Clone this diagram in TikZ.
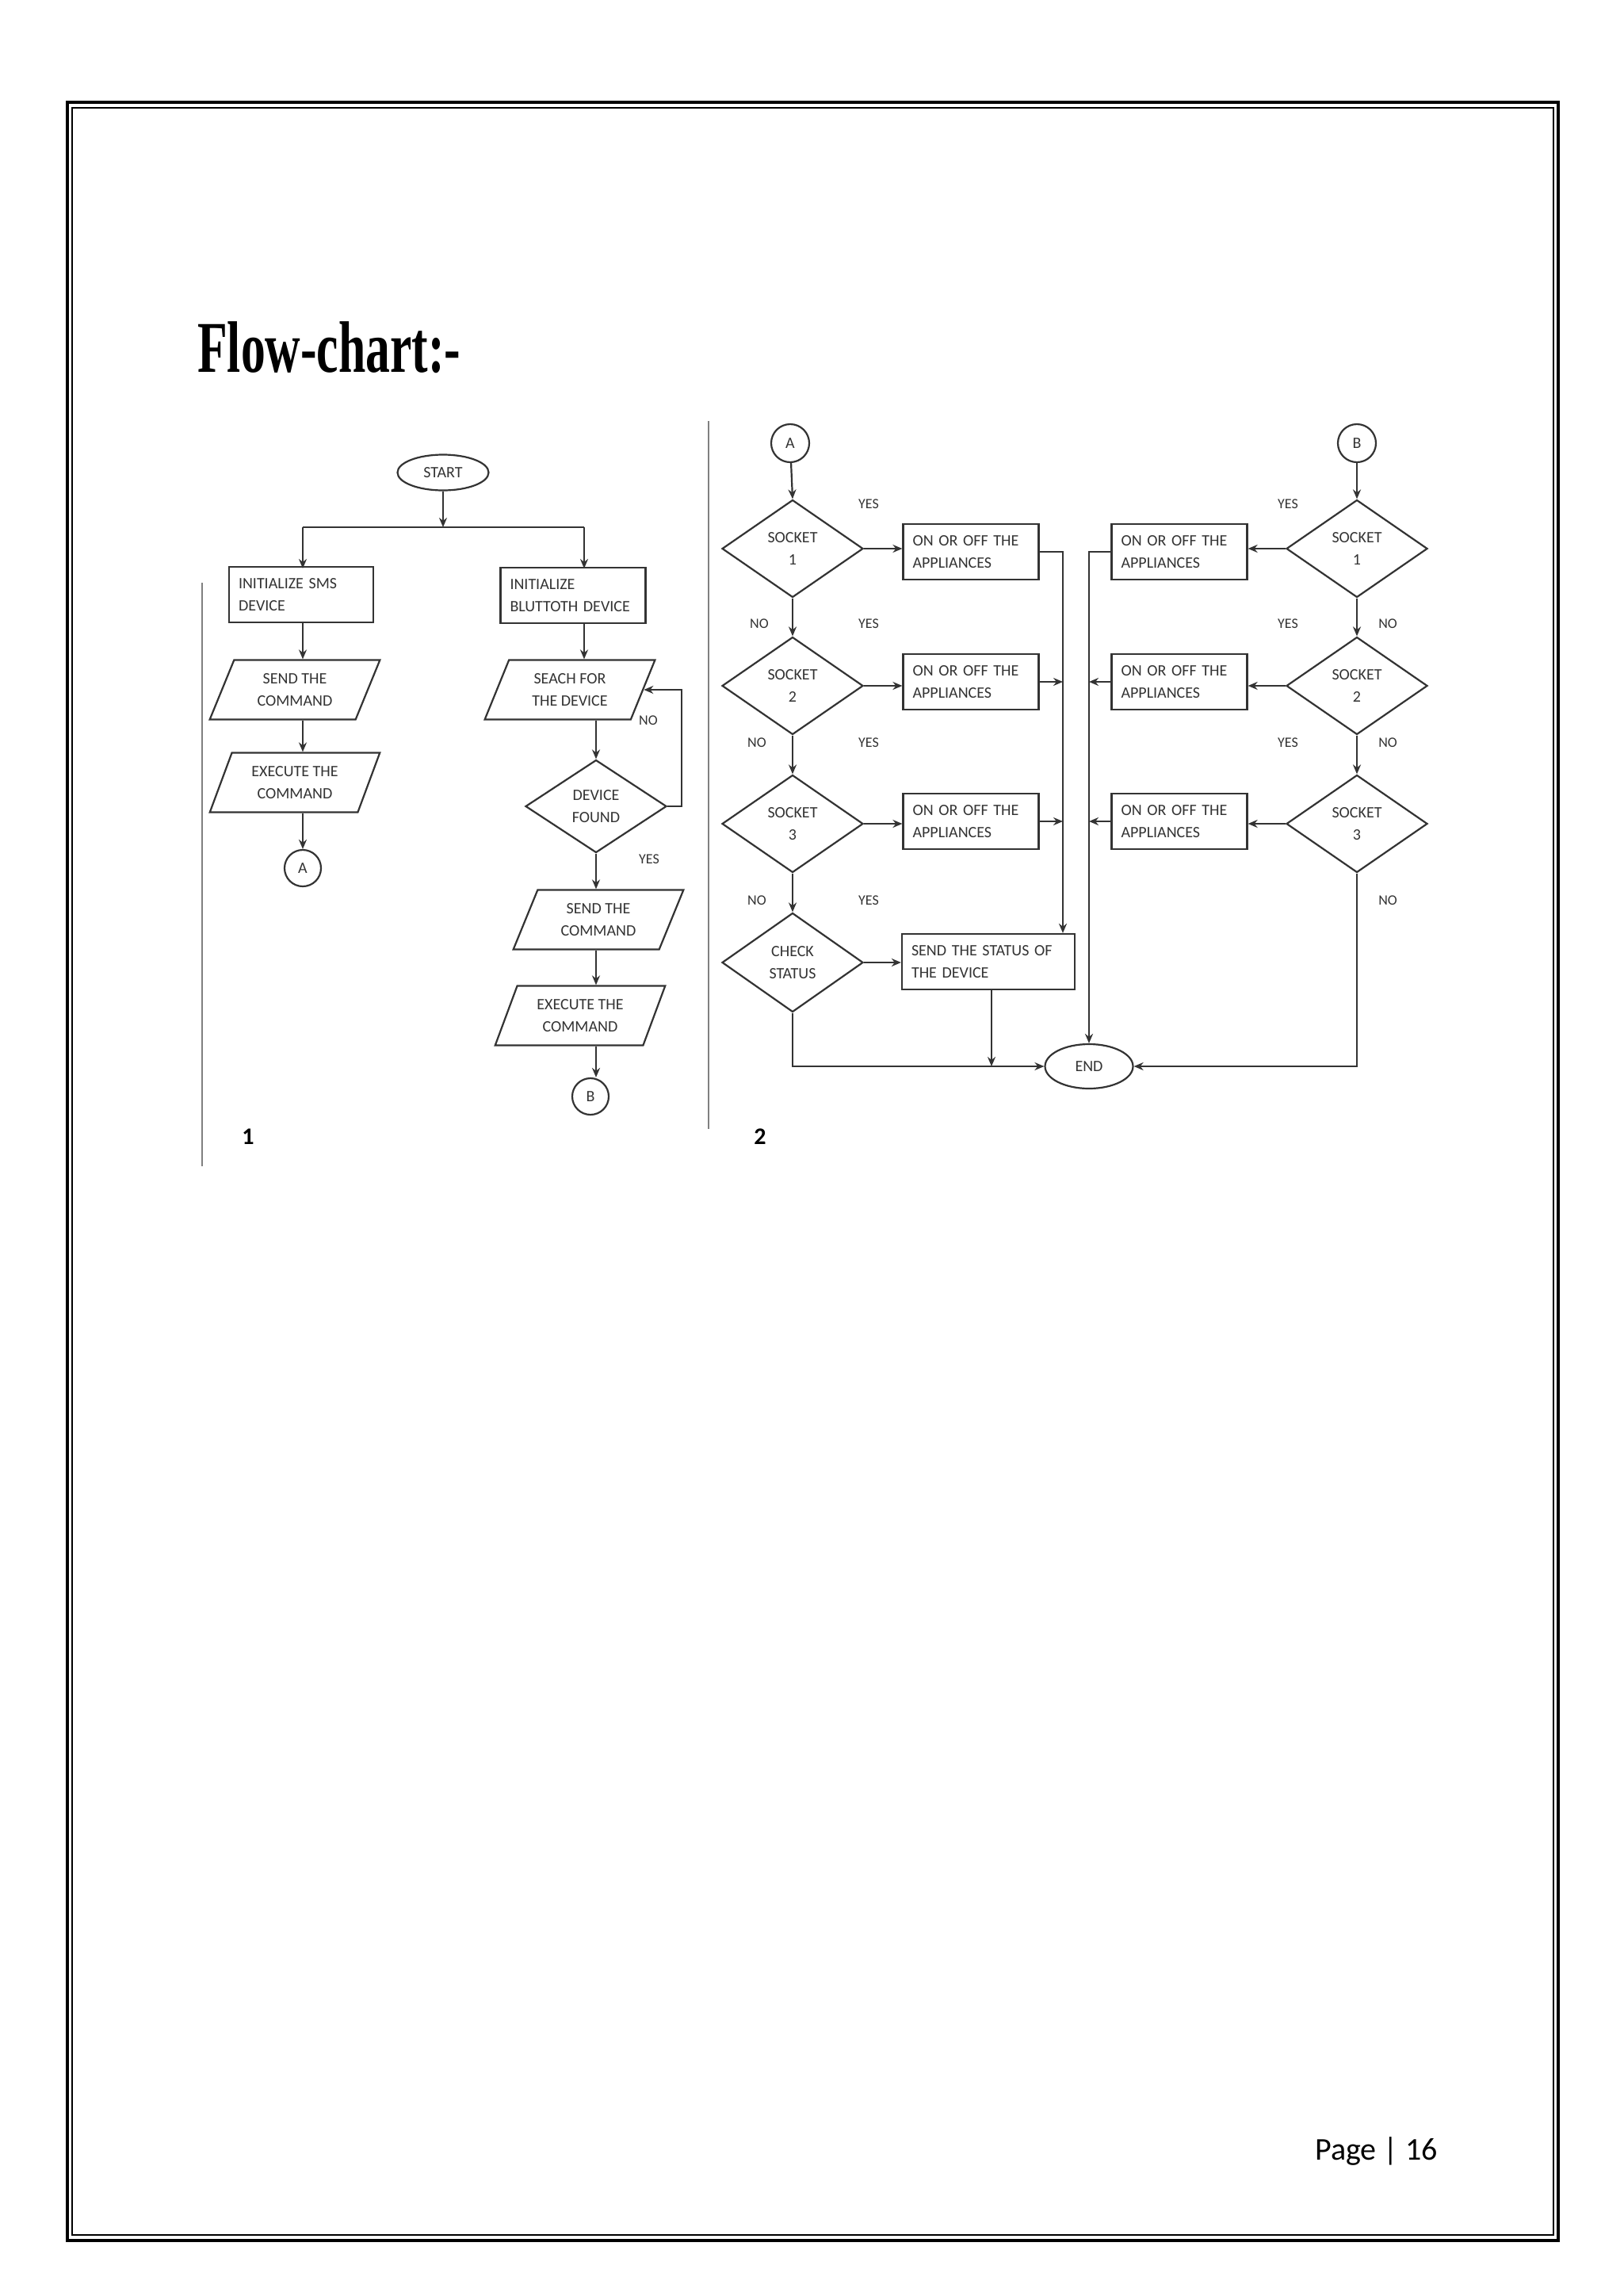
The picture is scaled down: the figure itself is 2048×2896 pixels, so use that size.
\documentclass[tikz,border=0pt]{standalone}
\usepackage{fontspec}
\usepackage{graphicx}
\setmainfont{Carlito}
\newfontfamily\titlefont{Liberation Serif}
\usetikzlibrary{shapes.geometric,arrows.meta}
\definecolor{ink}{HTML}{333333}
\tikzset{
  fc/.style={font=\fontsize{20}{28}\selectfont, text=ink, draw=ink, line width=2.2pt},
  box/.style={fc, rectangle, minimum height=70pt, inner xsep=12pt, align=left},
  para/.style={fc, trapezium, trapezium left angle=67, trapezium right angle=113, trapezium stretches=true, minimum width=215pt, minimum height=75pt, align=center},
  dia/.style={fc, diamond, minimum width=178pt, minimum height=123pt, inner sep=0pt, align=center},
  term/.style={fc, ellipse, inner sep=0pt},
  conn/.style={fc, circle, minimum size=46pt, inner sep=0pt},
  lbl/.style={font=\fontsize{18}{20}\selectfont, text=ink},
  arr/.style={draw=ink, line width=2.2pt, -{Stealth[length=12pt,width=10pt]}},
  ln/.style={draw=ink, line width=2.2pt},
}
\begin{document}
\begin{tikzpicture}[x=1pt,y=-1pt]
\useasboundingbox (0,0) rectangle (2048,2896);
\fill[white] (0,0) rectangle (2048,2896);
% page border
\draw[line width=4pt] (85,129) rectangle (1966,2826);
\draw[line width=2pt] (91,136) rectangle (1960,2819);
\node[anchor=base west, inner sep=0pt] (title) at (249,469) {\scalebox{0.67}[1]{\titlefont\fontsize{92}{100}\selectfont\bfseries Flow-chart:-}};
\node[anchor=base west, inner sep=0pt, font=\fontsize{40}{44}\selectfont] (pg) at (1659,2724) {Page | 16};
% separators
\draw[gray, line width=2.5pt] (255,735) -- (255,1471);
\draw[gray, line width=2.5pt] (894,531) -- (894,1424);
\node[font=\fontsize{30}{30}\selectfont\bfseries] (n1) at (313,1434) {1};
\node[font=\fontsize{30}{30}\selectfont\bfseries] (n2) at (959,1434) {2};
% ---------- chart 1 ----------
\node[term, minimum width=115pt, minimum height=45pt] (start) at (559,596) {START};
\coordinate (j) at (559,665);
\node[box, text width=158pt] (sms) at (380,750) {INITIALIZE SMS\\DEVICE};
\node[box, text width=159pt] (bt) at (723,751) {INITIALIZE\\BLUTTOTH DEVICE};
\node[para] (send1) at (372,870) {SEND THE\\COMMAND};
\node[para] (exec1) at (372,987) {EXECUTE THE\\COMMAND};
\node[conn] (ca) at (382,1095) {A};
\node[para] (seach) at (719,870) {SEACH FOR\\THE DEVICE};
\node[dia, minimum height=117pt] (found) at (752,1017) {DEVICE\\FOUND};
\node[para] (send2) at (755,1160) {SEND THE\\COMMAND};
\node[para] (exec2) at (732,1281) {EXECUTE THE\\COMMAND};
\node[conn] (cb) at (745,1383) {B};
\node[lbl] (no0) at (818,909) {NO};
\node[lbl] (yes0) at (819,1084) {YES};
\draw[arr] (start) -- (j);
\draw[ln] (382,665) -- (737,665);
\draw[arr] (382,665) -- (382,717);
\draw[arr] (737,665) -- (737,717);
\draw[arr] (sms.south -| ca) -- (send1.north -| ca);
\draw[arr] (send1.south -| ca) -- (exec1.north -| ca);
\draw[arr] (exec1.south -| ca) -- (ca.north);
\draw[arr] (bt.south -| 737,0) -- (seach.north -| 737,0);
\draw[arr] (seach.south -| found) -- (found.north);
\draw[arr] (found.east) -- ++(18,0) |- (seach.east);
\draw[arr] (found.south) -- (send2.north -| found);
\draw[arr] (send2.south -| found) -- (exec2.north -| found);
\draw[arr] (exec2.south -| found) -- (cb.north -| found);
% ---------- chart 2 ----------
\node[conn, minimum size=48pt] (a2) at (997,559) {A};
\node[conn, minimum size=48pt] (b2) at (1712,559) {B};
\node[dia] (s1) at (1000,692) {SOCKET\\1};
\node[dia] (s2) at (1000,865) {SOCKET\\2};
\node[dia] (s3) at (1000,1039) {SOCKET\\3};
\node[dia, minimum height=125pt] (check) at (1000,1214) {CHECK\\STATUS};
\node[box, text width=147pt] (bl1) at (1225,696) {ON OR OFF THE\\APPLIANCES};
\node[box, text width=147pt] (bl2) at (1225,860) {ON OR OFF THE\\APPLIANCES};
\node[box, text width=147pt] (bl3) at (1225,1036) {ON OR OFF THE\\APPLIANCES};
\node[box, text width=194pt] (status) at (1247,1213) {SEND THE STATUS OF\\THE DEVICE};
\node[dia] (r1) at (1712,692) {SOCKET\\1};
\node[dia] (r2) at (1712,865) {SOCKET\\2};
\node[dia] (r3) at (1712,1039) {SOCKET\\3};
\node[box, text width=147pt] (br1) at (1488,696) {ON OR OFF THE\\APPLIANCES};
\node[box, text width=147pt] (br2) at (1488,860) {ON OR OFF THE\\APPLIANCES};
\node[box, text width=147pt] (br3) at (1488,1036) {ON OR OFF THE\\APPLIANCES};
\node[term, minimum width=111pt, minimum height=56pt] (endn) at (1374,1345) {END};
\coordinate (cl) at (1341,0);
\coordinate (cr) at (1374,0);
\coordinate (bs) at (1251,1345);
% labels
\node[lbl] at (1096,636) {YES};
\node[lbl] at (1096,787) {YES};
\node[lbl] at (1096,937) {YES};
\node[lbl] at (1096,1136) {YES};
\node[lbl] at (958,787) {NO};
\node[lbl] at (955,937) {NO};
\node[lbl] at (955,1136) {NO};
\node[lbl] at (1625,636) {YES};
\node[lbl] at (1625,787) {YES};
\node[lbl] at (1625,937) {YES};
\node[lbl] at (1751,787) {NO};
\node[lbl] at (1751,937) {NO};
\node[lbl] at (1751,1136) {NO};
% connectors left
\draw[arr] (a2) -- (s1.north);
\draw[arr] (s1) -- (s2);
\draw[arr] (s2) -- (s3);
\draw[arr] (s3) -- (check);
\draw[arr] (s1.east) -- (bl1.west |- s1.east);
\draw[arr] (s2.east) -- (bl2.west |- s2.east);
\draw[arr] (s3.east) -- (bl3.west |- s3.east);
\draw[arr] (check.east) -- (status.west |- check.east);
\draw[arr] (bl1.east) -| (cl |- status.north);
\draw[arr] (bl2.east) -- (cl |- bl2.east);
\draw[arr] (bl3.east) -- (cl |- bl3.east);
\draw[arr] (check.south) |- (endn.west);
\draw[arr] (status.south -| bs) -- (bs);
% connectors right
\draw[arr] (b2) -- (r1.north);
\draw[arr] (r1) -- (r2);
\draw[arr] (r2) -- (r3);
\draw[arr] (r1.west) -- (br1.east |- r1.west);
\draw[arr] (r2.west) -- (br2.east |- r2.west);
\draw[arr] (r3.west) -- (br3.east |- r3.west);
\draw[arr] (br1.west) -| (endn.north);
\draw[arr] (br2.west) -- (cr |- br2.west);
\draw[arr] (br3.west) -- (cr |- br3.west);
\draw[arr] (r3.south) |- (endn.east);
\end{tikzpicture}
\end{document}
